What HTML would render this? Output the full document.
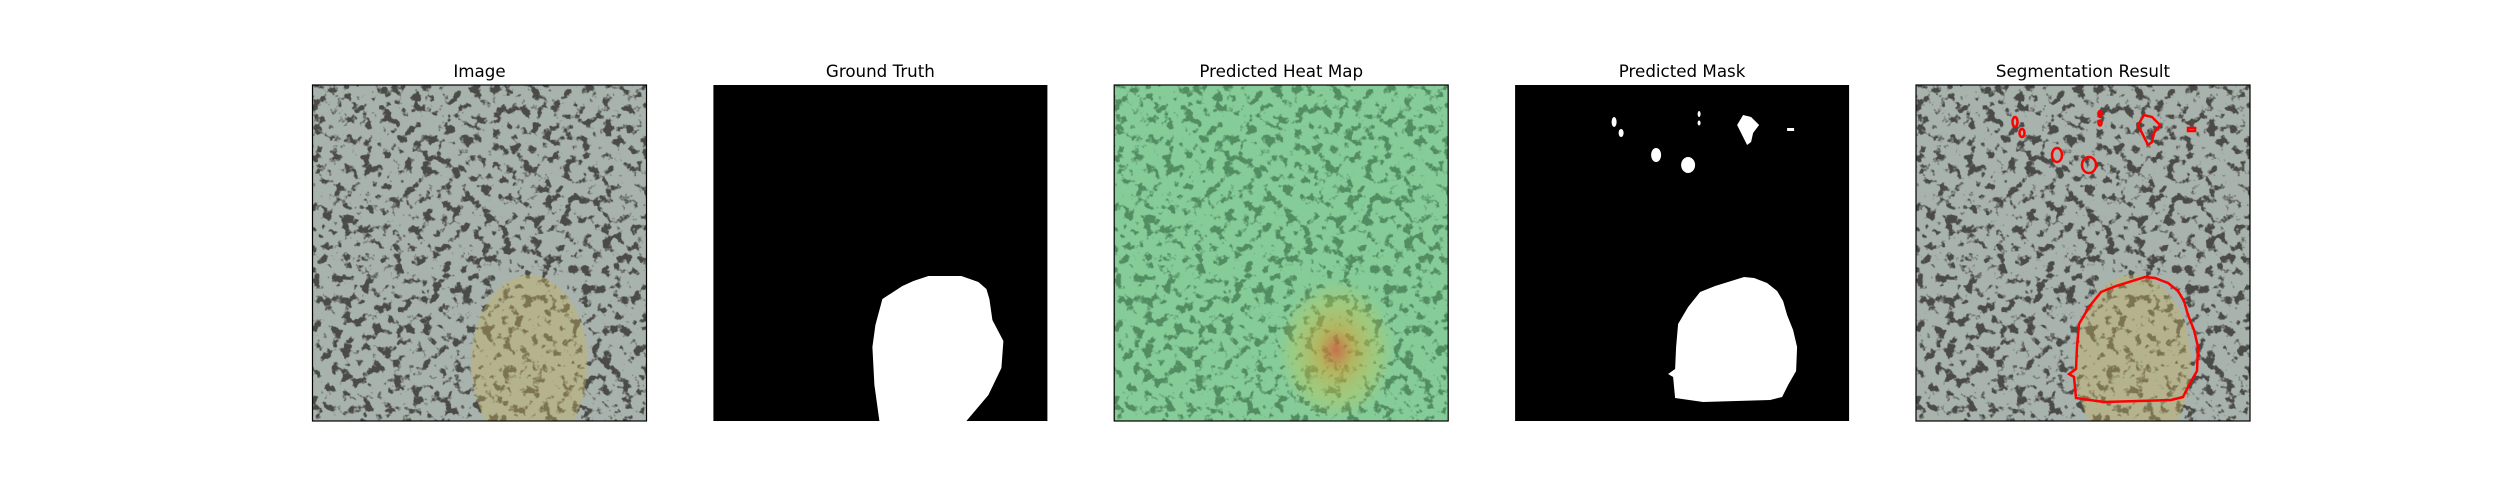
<!DOCTYPE html>
<html><head><meta charset="utf-8"><style>
html,body{margin:0;padding:0;background:#fff;width:2500px;height:500px;overflow:hidden}
svg text{font-family:"DejaVu Sans","Liberation Sans",sans-serif;font-size:16.7px;fill:#000}
</style></head><body>
<svg width="2500" height="500" viewBox="0 0 2500 500">
<defs>
<filter id="spots" filterUnits="userSpaceOnUse" x="0" y="0" width="334" height="336" color-interpolation-filters="sRGB">
 <feTurbulence type="fractalNoise" baseFrequency="0.1" numOctaves="3" seed="7"/>
 <feColorMatrix type="matrix" values="0 0 0 0 0.29  0 0 0 0 0.29  0 0 0 0 0.28  9 0 0 0 -4.85"/>
</filter>
<filter id="spotsG" filterUnits="userSpaceOnUse" x="0" y="0" width="334" height="336" color-interpolation-filters="sRGB">
 <feTurbulence type="fractalNoise" baseFrequency="0.1" numOctaves="3" seed="7"/>
 <feColorMatrix type="matrix" values="0 0 0 0 0.32  0 0 0 0 0.55  0 0 0 0 0.38  9 0 0 0 -4.85"/>
</filter>
<radialGradient id="heat" cx="0.5" cy="0.5" r="0.5">
 <stop offset="0" stop-color="#e04a2a" stop-opacity="0.7"/>
 <stop offset="0.3" stop-color="#d9a030" stop-opacity="0.55"/>
 <stop offset="0.7" stop-color="#c9c850" stop-opacity="0.35"/>
 <stop offset="1" stop-color="#c9c850" stop-opacity="0"/>
</radialGradient>
<clipPath id="pc"><rect x="0" y="0" width="334" height="336"/></clipPath>
</defs>

<!-- Panel 1 -->
<g transform="translate(312.5,85)">
 <g clip-path="url(#pc)">
 <rect width="334" height="336" fill="#a9b3ad"/>
 <rect width="334" height="336" filter="url(#spots)"/>
 <ellipse cx="217" cy="278" rx="58" ry="88" fill="#c8b560" opacity="0.4"/>
 </g>
 <rect width="334" height="336" fill="none" stroke="#000" stroke-width="1.2"/>
 <text x="167" y="-8" text-anchor="middle">Image</text>
</g>

<!-- Panel 2 -->
<g transform="translate(713.4,85)">
 <rect width="334" height="336" fill="#000"/>
 <path d="M189,201 L200,196 L215,191 L248,191 L265,197 L273,204 L276,214 L279,235 L290,256 L288,283 L275,310 L253,336 L166,336 L161,300 L159,262 L162,240 L169,214 Z" fill="#fff"/>
 <text x="167" y="-8" text-anchor="middle">Ground Truth</text>
</g>

<!-- Panel 3 -->
<g transform="translate(1114.2,85)">
 <g clip-path="url(#pc)">
 <rect width="334" height="336" fill="#86cc99"/>
 <rect width="334" height="336" filter="url(#spotsG)"/>
 <ellipse cx="222" cy="265" rx="58" ry="70" fill="url(#heat)"/>
 </g>
 <rect width="334" height="336" fill="none" stroke="#000" stroke-width="1.2"/>
 <text x="167" y="-8" text-anchor="middle">Predicted Heat Map</text>
</g>

<!-- Panel 4 -->
<g transform="translate(1515.1,85)">
 <rect width="334" height="336" fill="#000"/>
 <g fill="#fff">
  <path d="M229,192 L239,193 L252,198 L262,206 L268,216 L272,230 L278,245 L282,262 L281,286 L273,300 L267,312 L255,315 L188,317 L160,313 L158,292 L153,289 L160,284 L161,262 L163,239 L173,222 L185,207 L200,201 Z"/>
  <ellipse cx="99" cy="37" rx="2.5" ry="5"/>
  <ellipse cx="106" cy="48" rx="2.5" ry="4"/>
  <ellipse cx="184" cy="29" rx="1.5" ry="3"/>
  <ellipse cx="184" cy="38" rx="1.5" ry="2.5"/>
  <path d="M222,40 L228,30 L236,32 L244,40 L238,48 L236,57 L232,60 L228,52 Z"/>
  <ellipse cx="141" cy="70" rx="5" ry="7"/>
  <ellipse cx="173" cy="80" rx="7" ry="8"/>
  <rect x="272" y="43" width="7" height="3"/>
 </g>
 <text x="167" y="-8" text-anchor="middle">Predicted Mask</text>
</g>

<!-- Panel 5 -->
<g transform="translate(1916,85)">
 <g clip-path="url(#pc)">
 <rect width="334" height="336" fill="#a9b3ad"/>
 <rect width="334" height="336" filter="url(#spots)"/>
 <ellipse cx="217" cy="278" rx="58" ry="88" fill="#c8b560" opacity="0.4"/>
 <g fill="none" stroke="#ff0000" stroke-width="2.5">
  <path d="M229,192 L239,193 L252,198 L262,206 L268,216 L272,230 L278,245 L282,262 L281,286 L273,300 L267,312 L255,315 L188,317 L160,313 L158,292 L153,289 L160,284 L161,262 L163,239 L173,222 L185,207 L200,201 Z"/>
  <ellipse cx="99" cy="37" rx="2.5" ry="5"/>
  <ellipse cx="106" cy="48" rx="2.5" ry="4"/>
  <ellipse cx="184" cy="29" rx="1.5" ry="3"/>
  <ellipse cx="184" cy="38" rx="1.5" ry="2.5"/>
  <path d="M222,40 L228,30 L236,32 L244,40 L238,48 L236,57 L232,60 L228,52 Z"/>
  <ellipse cx="141" cy="70" rx="5" ry="7"/>
  <ellipse cx="173" cy="80" rx="7" ry="8"/>
  <rect x="272" y="43" width="7" height="3"/>
 </g>
 </g>
 <rect width="334" height="336" fill="none" stroke="#000" stroke-width="1.2"/>
 <text x="167" y="-8" text-anchor="middle">Segmentation Result</text>
</g>
</svg>
</body></html>
